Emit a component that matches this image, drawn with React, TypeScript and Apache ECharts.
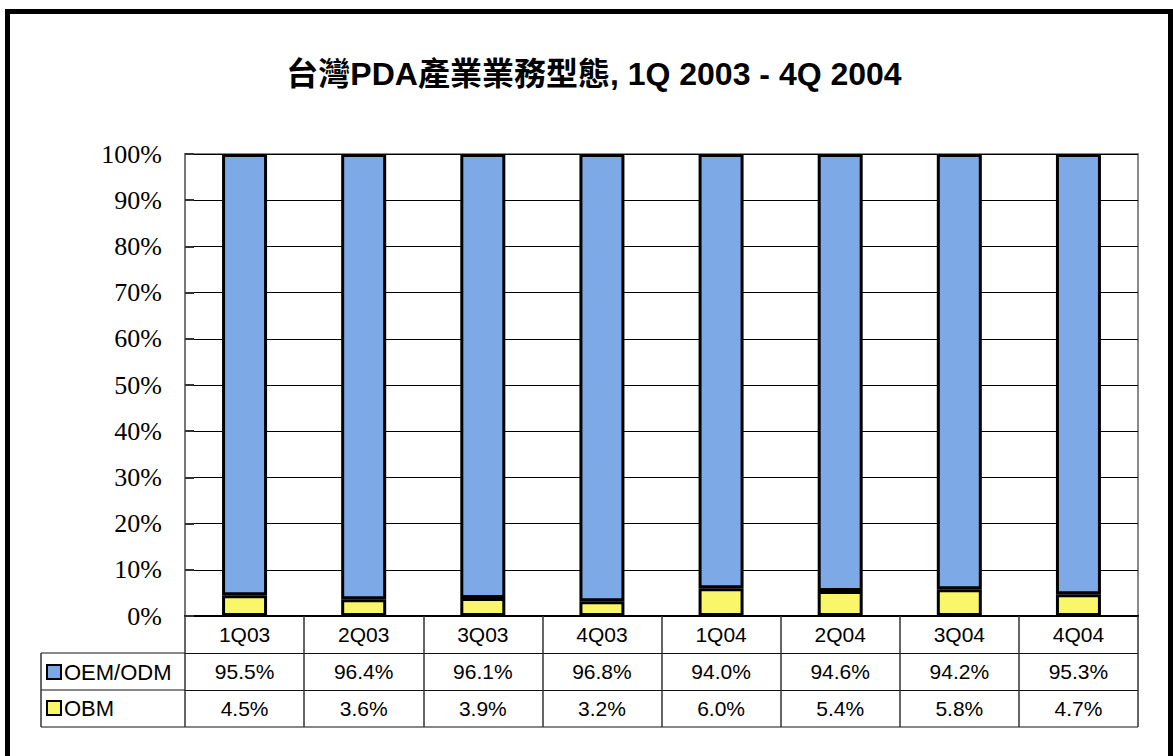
import React, { useEffect, useRef } from "react";
import * as echarts from "echarts";

const categories = ["1Q03", "2Q03", "3Q03", "4Q03", "1Q04", "2Q04", "3Q04", "4Q04"];
const oemOdm = [95.5, 96.4, 96.1, 96.8, 94.0, 94.6, 94.2, 95.3];
const obm = [4.5, 3.6, 3.9, 3.2, 6.0, 5.4, 5.8, 4.7];
const seriesNames = ["OEM/ODM", "OBM"];
const yTicks = { min: 0, max: 100, interval: 10 };
const titleText = "台灣PDA產業業務型態, 1Q 2003 - 4Q 2004";

const BLUE = "#7DA9E6";
const YELLOW = "#F9F66A";
const SANS = "Liberation Sans, Arial, Noto Sans CJK TC, sans-serif";
const SERIF = "Liberation Serif, serif";

const ROW = 37;
const pct = (v: number) => v.toFixed(1) + "%";

function tableAxis(offset: number, formatter: (v: string, i: number) => string) {
  return {
    type: "category",
    data: categories,
    position: "bottom",
    offset,
    axisLine: { show: true, lineStyle: { color: "#111", width: 1 } },
    axisTick: { show: true, inside: false, length: ROW, lineStyle: { color: "#333", width: 1.5 } },
    axisLabel: {
      show: true,
      formatter,
      margin: ROW / 2,
      verticalAlign: "middle",
      color: "#000",
      fontSize: 21,
      fontFamily: SANS,
    },
    splitLine: { show: false },
  };
}

export default function App() {
  const ref = useRef<HTMLDivElement>(null);
  useEffect(() => {
    if (!ref.current) return;
    const chart = echarts.init(ref.current, null, { renderer: "svg" });
    const option: any = {
      animation: false,
      backgroundColor: "#fff",
      title: {
        text: titleText,
        left: 589,
        top: 53,
        textAlign: "center",
        textStyle: { fontSize: 32, fontWeight: "bold", color: "#000", fontFamily: SANS },
      },
      legend: {
        data: seriesNames,
        orient: "vertical",
        left: 46,
        top: 661,
        itemWidth: 14,
        itemHeight: 14,
        itemGap: 14,
        icon: "rect",
        itemStyle: { borderColor: "#000", borderWidth: 2 },
        textStyle: { fontSize: 22, fontFamily: SANS, color: "#000", padding: [0, 0, 0, -2] },
        selectedMode: false,
        padding: 0,
      },
      grid: {
        left: 185,
        right: 35,
        top: 154,
        bottom: 140,
        show: true,
        borderColor: "#888",
        borderWidth: 2,
        backgroundColor: "transparent",
      },
      xAxis: [
        {
          type: "category",
          data: categories,
          position: "bottom",
          axisLine: { show: true, lineStyle: { color: "#000", width: 2 } },
          axisTick: { show: true, inside: false, length: ROW, lineStyle: { color: "#333", width: 1.5 } },
          axisLabel: {
            margin: ROW / 2,
            verticalAlign: "middle",
            color: "#000",
            fontSize: 21,
            fontFamily: SANS,
          },
          splitLine: { show: false },
        },
        tableAxis(ROW, (_v: string, i: number) => pct(oemOdm[i])),
        tableAxis(ROW * 2, (_v: string, i: number) => pct(obm[i])),
      ],
      yAxis: {
        type: "value",
        min: yTicks.min,
        max: yTicks.max,
        interval: yTicks.interval,
        axisLine: { show: true, lineStyle: { color: "#777", width: 2 } },
        axisTick: { show: true, inside: true, length: 9, lineStyle: { color: "#333", width: 2 } },
        axisLabel: {
          formatter: "{value}%",
          margin: 23,
          color: "#000",
          fontSize: 26,
          fontFamily: SERIF,
          fontStyle: "normal",
        },
        splitLine: { show: true, lineStyle: { color: "#000", width: 1 } },
      },
      series: [
        {
          name: seriesNames[1],
          type: "bar",
          stack: "total",
          data: obm,
          barWidth: 45,
          itemStyle: { color: YELLOW, borderColor: "#000", borderWidth: 3 },
          xAxisIndex: 0,
        },
        {
          name: seriesNames[0],
          type: "bar",
          stack: "total",
          data: oemOdm,
          barWidth: 45,
          itemStyle: { color: BLUE, borderColor: "#000", borderWidth: 3 },
          xAxisIndex: 0,
        },
      ],
      graphic: [
        {
          type: "rect",
          shape: { x: 7.5, y: 11.5, width: 1163, height: 760 },
          style: { fill: "none", stroke: "#000", lineWidth: 5 },
          silent: true,
        },
        {
          type: "line",
          shape: { x1: 41, y1: 616 + ROW, x2: 185, y2: 616 + ROW },
          style: { stroke: "#111", lineWidth: 1 },
        },
        {
          type: "line",
          shape: { x1: 41, y1: 616 + ROW * 2, x2: 185, y2: 616 + ROW * 2 },
          style: { stroke: "#111", lineWidth: 1 },
        },
        {
          type: "line",
          shape: { x1: 41, y1: 616 + ROW * 3, x2: 1138, y2: 616 + ROW * 3 },
          style: { stroke: "#111", lineWidth: 1 },
        },
        {
          type: "line",
          shape: { x1: 41, y1: 616 + ROW, x2: 41, y2: 616 + ROW * 3 },
          style: { stroke: "#333", lineWidth: 1.5 },
        },
      ],
    };
    chart.setOption(option);
    return () => chart.dispose();
  }, []);
  return (
    <div
      ref={ref}
      style={{ position: "fixed", left: 0, top: 0, width: 1173, height: 756, background: "#fff" }}
    />
  );
}
